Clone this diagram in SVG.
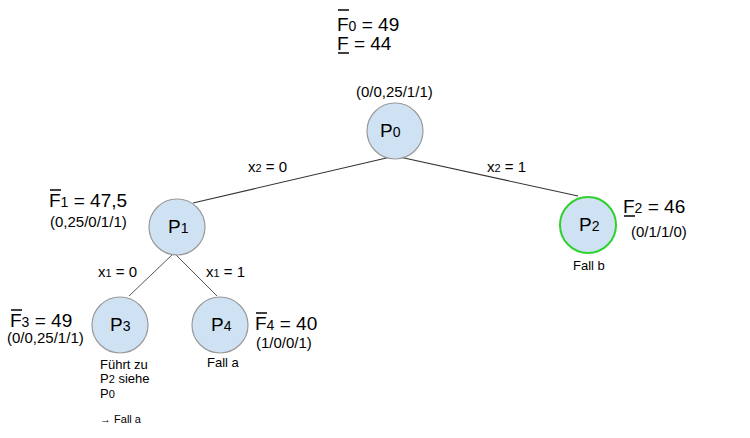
<svg xmlns="http://www.w3.org/2000/svg" width="750" height="438" viewBox="0 0 750 438">
<style>
text{font-family:"Liberation Sans",Arial,sans-serif;fill:#000}
.node{fill:#cfe2f3;stroke:#999;stroke-width:1.2}
.green{stroke:#2fd12f;stroke-width:2}
.big{font-size:19px}
.mid{font-size:15px}
.sm{font-size:13px}
.xs{font-size:11px}
.sub{font-size:14px}
.subs{font-size:11px}
.edge{stroke:#333;stroke-width:1.1;fill:none}
.edge2{stroke:#555;stroke-width:1;fill:none}
.bar{stroke:#000;stroke-width:1.5}
</style>
<rect width="750" height="438" fill="#fff"/>
<g id="connectors">
<line class="edge" x1="395" y1="156" x2="193" y2="203"/>
<line class="edge" x1="395" y1="156" x2="578" y2="196"/>
<line class="edge2" x1="174" y1="253" x2="129" y2="296"/>
<line class="edge2" x1="174" y1="253" x2="217" y2="296"/>
<text class="mid" x="248" y="172">x<tspan class="subs">2</tspan> = 0</text>
<text class="mid" x="487" y="172">x<tspan class="subs">2</tspan> = 1</text>
<text class="mid" x="98" y="277">x<tspan class="subs">1</tspan> = 0</text>
<text class="mid" x="206" y="277">x<tspan class="subs">1</tspan> = 1</text>
</g>
<g id="header">
<text class="big" x="337" y="31">F<tspan class="sub">0</tspan> = 49</text>
<line class="bar" x1="338" y1="10" x2="349" y2="10"/>
<text class="big" x="337" y="50">F = 44</text>
<line class="bar" x1="338" y1="53" x2="349" y2="53"/>
</g>
<g id="P0">
<text class="mid" x="356" y="97">(0/0,25/1/1)</text>
<circle class="node" cx="395" cy="131" r="28"/>
<text class="big" x="380" y="137">P<tspan class="sub">0</tspan></text>
</g>
<g id="P1">
<circle class="node" cx="177" cy="227" r="28"/>
<text class="big" x="168" y="233">P<tspan class="sub">1</tspan></text>
<text class="big" x="49" y="207">F<tspan class="sub">1</tspan> = 47,5</text>
<line class="bar" x1="50" y1="190" x2="61" y2="190"/>
<text class="mid" x="50" y="227">(0,25/0/1/1)</text>
</g>
<g id="P2">
<circle class="node green" cx="588" cy="225" r="28"/>
<text class="big" x="579" y="231">P<tspan class="sub">2</tspan></text>
<text class="big" x="623" y="213">F<tspan class="sub">2</tspan> = 46</text>
<line class="bar" x1="624" y1="216" x2="635" y2="216"/>
<text class="mid" x="631" y="237">(0/1/1/0)</text>
<text class="sm" x="573" y="270">Fall b</text>
</g>
<g id="P3">
<circle class="node" cx="120" cy="325" r="28"/>
<text class="big" x="110" y="331">P<tspan class="sub">3</tspan></text>
<text class="big" x="10" y="327">F<tspan class="sub">3</tspan> = 49</text>
<line class="bar" x1="11" y1="310" x2="22" y2="310"/>
<text class="mid" x="7" y="343">(0/0,25/1/1)</text>
<text class="sm" x="100" y="369">Führt zu</text>
<text class="sm" x="100" y="383">P<tspan class="subs">2</tspan> siehe</text>
<text class="sm" x="100" y="398">P<tspan class="subs">0</tspan></text>
<text class="xs" x="100" y="423">→ Fall a</text>
</g>
<g id="P4">
<circle class="node" cx="220" cy="325" r="28"/>
<text class="big" x="211" y="331">P<tspan class="sub">4</tspan></text>
<text class="big" x="255" y="330">F<tspan class="sub">4</tspan> = 40</text>
<line class="bar" x1="256" y1="313" x2="267" y2="313"/>
<text class="mid" x="256" y="348">(1/0/0/1)</text>
<text class="sm" x="207" y="367">Fall a</text>
</g>
</svg>
